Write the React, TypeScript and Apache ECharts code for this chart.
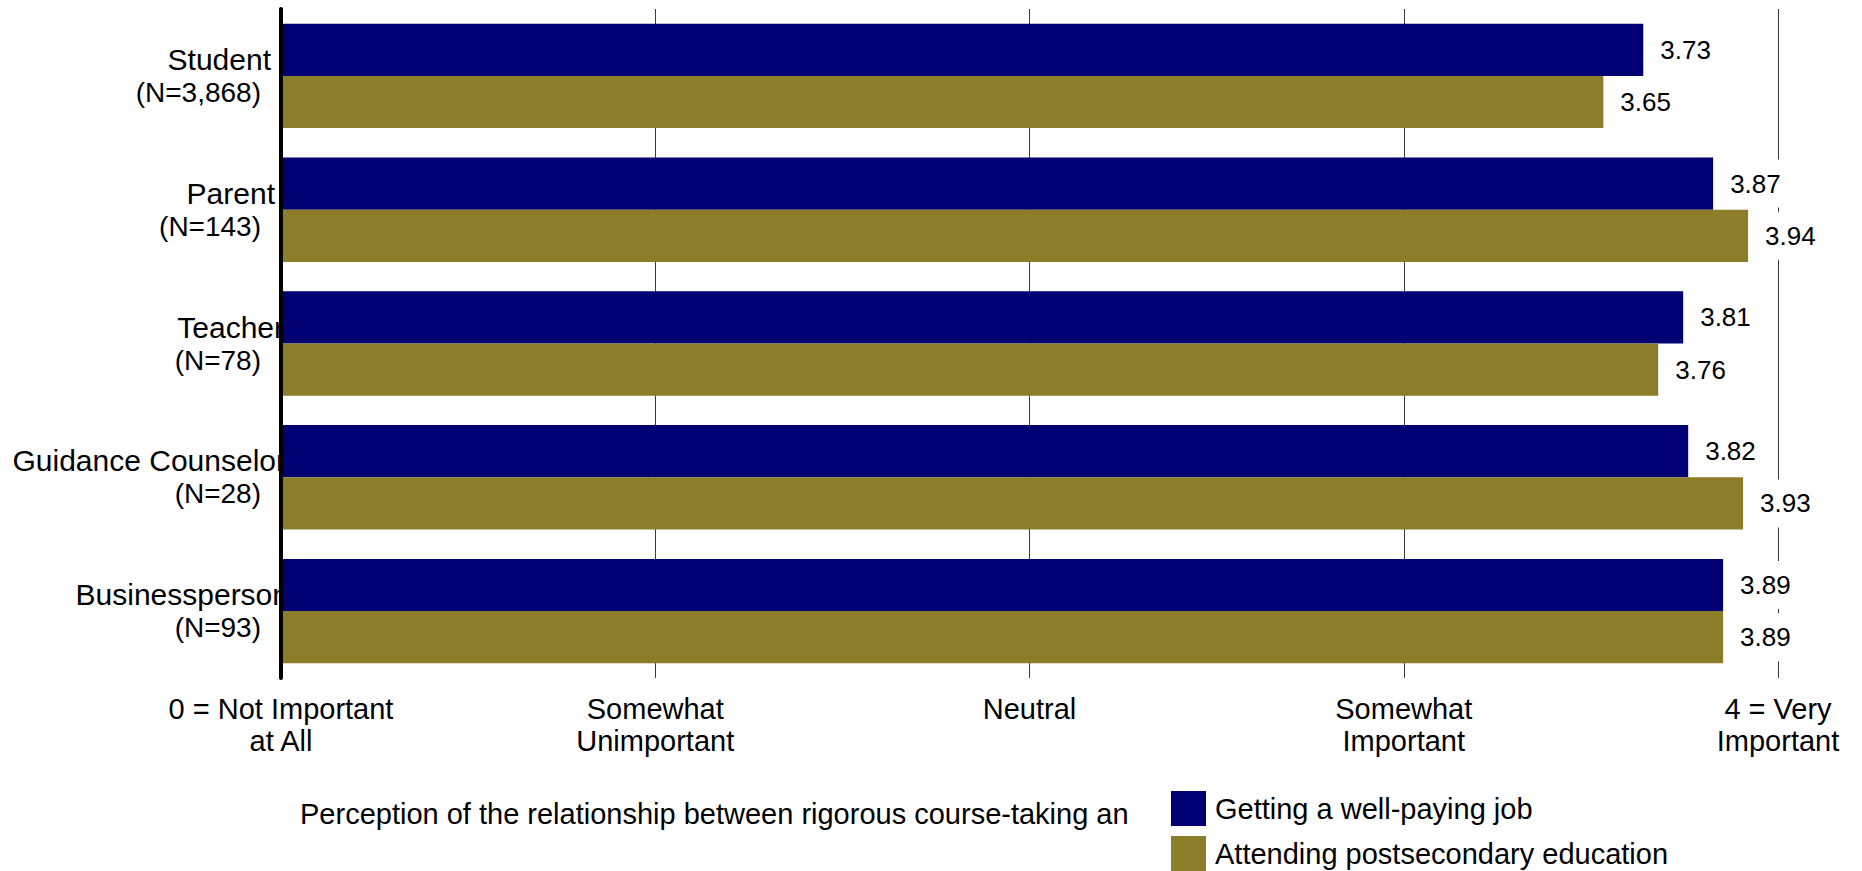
import React, { useEffect, useRef } from 'react';
import * as echarts from 'echarts';

// ---- data ----
const groups = ['Student', 'Parent', 'Teacher', 'Guidance Counselor', 'Businessperson'];
const groupCounts = ['(N=3,868)', '(N=143)', '(N=78)', '(N=28)', '(N=93)'];
const seriesNames = ['Getting a well-paying job', 'Attending postsecondary education'];
const jobValues = [3.73, 3.87, 3.81, 3.82, 3.89];
const educationValues = [3.65, 3.94, 3.76, 3.93, 3.89];
const tickValues = [1, 1.75, 2.5, 3.25, 4];
const tickLabels = [
  '0 = Not Important\nat All',
  'Somewhat\nUnimportant',
  'Neutral',
  'Somewhat\nImportant',
  '4 = Very\nImportant',
];
const axisTitle = 'Perception of the relationship between rigorous course-taking an';

// ---- layout / style ----
const FONT = '"Liberation Sans", Arial, Helvetica, sans-serif';
const NAVY = '#000073';
const OLIVE = '#8b7d2a';
const nameInsets = [20, 16, 7, 5, 2];

export default function App() {
  const ref = useRef<HTMLDivElement>(null);

  useEffect(() => {
    if (!ref.current) return;
    const chart = echarts.init(ref.current, undefined, { renderer: 'svg' });

    const rich: Record<string, any> = {
      c: { fontSize: 28, lineHeight: 33, color: '#000', fontFamily: FONT, padding: [0, 30, 0, 0] },
    };
    groups.forEach((_, i) => {
      rich['n' + i] = {
        fontSize: 30,
        lineHeight: 33,
        color: '#000',
        fontFamily: FONT,
        padding: [0, nameInsets[i], 0, 0],
      };
    });

    const valueLabel = {
      show: true,
      position: 'right' as const,
      distance: 14,
      fontSize: 26,
      fontFamily: FONT,
      color: '#000',
      backgroundColor: '#ffffff',
      padding: [11, 3, 11, 3],
      formatter: (p: any) => Number(p.value).toFixed(2),
    };

    const option: any = {
      animation: false,
      backgroundColor: '#ffffff',
      grid: { left: 281, right: 84, top: 9, bottom: 193, containLabel: false },
      xAxis: {
        type: 'value',
        min: 1,
        max: 4,
        axisLine: { show: false },
        axisTick: { show: false, customValues: tickValues },
        axisLabel: {
          customValues: tickValues,
          formatter: (v: number) => {
            const i = tickValues.findIndex((t) => Math.abs(t - v) < 1e-6);
            return i >= 0 ? tickLabels[i] : '';
          },
          fontSize: 29,
          lineHeight: 32,
          color: '#000',
          fontFamily: FONT,
          margin: 15,
          align: 'center',
        },
        splitLine: { show: true, lineStyle: { color: '#3a3a3a', width: 1 } },
      },
      yAxis: [
        {
          type: 'category',
          data: groups,
          inverse: true,
          z: 0,
          axisLine: { show: false },
          axisTick: { show: false },
          splitLine: { show: false },
          axisLabel: {
            margin: -10,
            formatter: (value: string, index: number) =>
              `{n${index}|${value}}\n{c|${groupCounts[index]}}`,
            rich,
          },
        },
        {
          type: 'category',
          data: groups,
          inverse: true,
          position: 'left',
          offset: 0,
          z: 5,
          axisLine: { show: true, lineStyle: { color: '#000', width: 4 } },
          axisTick: { show: false },
          axisLabel: { show: false },
          splitLine: { show: false },
        },
      ],
      legend: {
        orient: 'vertical',
        left: 1171,
        top: 791,
        height: 200,
        padding: 0,
        itemWidth: 35,
        itemHeight: 35,
        itemGap: 10,
        icon: 'rect',
        data: seriesNames,
        textStyle: { fontSize: 29, color: '#000', fontFamily: FONT, padding: [0, 0, 0, 4] },
      },
      graphic: [
        {
          type: 'text',
          x: 300,
          y: 814,
          style: {
            text: axisTitle,
            fontSize: 29,
            fontFamily: FONT,
            fill: '#000',
            verticalAlign: 'middle',
            align: 'left',
          },
        },
      ],
      series: [
        {
          name: seriesNames[0],
          type: 'bar',
          yAxisIndex: 0,
          data: jobValues,
          barGap: '0%',
          barCategoryGap: '22%',
          itemStyle: { color: NAVY },
          label: valueLabel,
        },
        {
          name: seriesNames[1],
          type: 'bar',
          yAxisIndex: 0,
          data: educationValues,
          barGap: '0%',
          barCategoryGap: '22%',
          itemStyle: { color: OLIVE },
          label: valueLabel,
        },
      ],
    };

    chart.setOption(option);
    return () => chart.dispose();
  }, []);

  return (
    <div
      ref={ref}
      style={{ position: 'fixed', left: 0, top: 0, width: 1862, height: 871, background: '#fff' }}
    />
  );
}
